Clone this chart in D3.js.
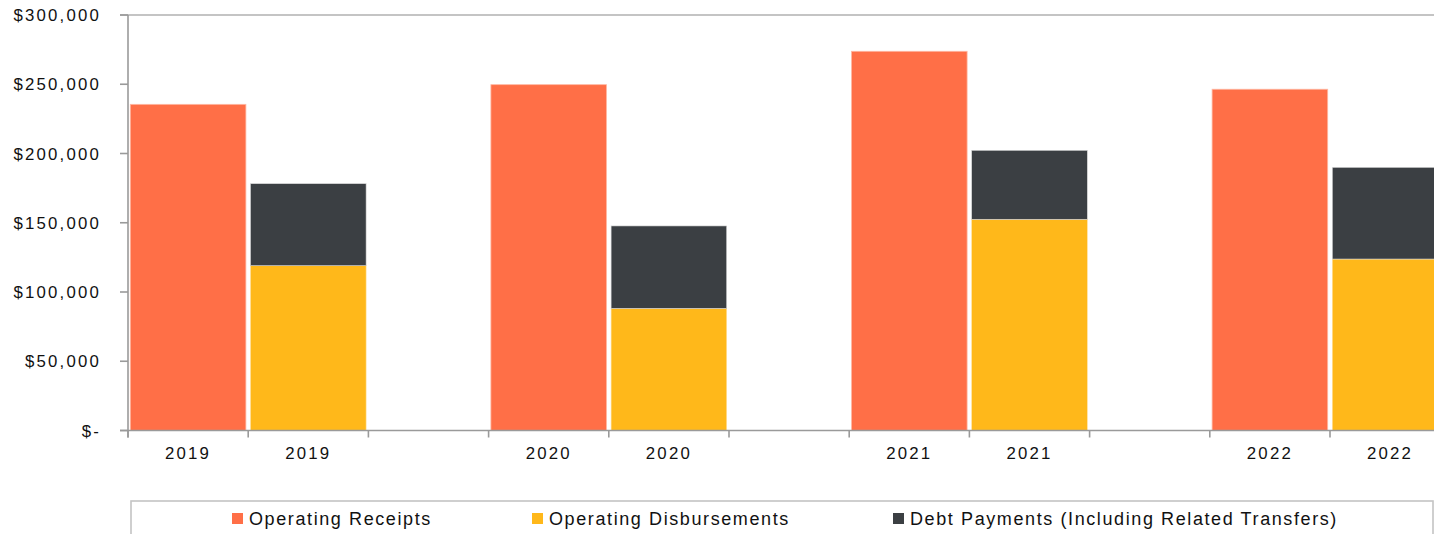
<!DOCTYPE html>
<html><head><meta charset="utf-8">
<script src="https://cdn.jsdelivr.net/npm/d3@7"></script>
<style>
html,body{margin:0;padding:0;background:#fff;overflow:hidden}
text{font-family:"Liberation Sans",Arial,sans-serif}
</style></head>
<body><svg id="c" width="1434" height="534"></svg>
<script>
const years = ["2019","2020","2021","2022"];
const receipts = [235500, 249700, 273800, 246400];
const disbursements = [119000, 88200, 152500, 123800];
const debt = [59200, 59500, 49800, 66200];
const yTicks = [0, 50000, 100000, 150000, 200000, 250000, 300000];
const seriesNames = ["Operating Receipts","Operating Disbursements","Debt Payments (Including Related Transfers)"];
const colors = ["#FF6F47","#FFB81A","#3B3F43"];

// slots: receipt, disbursement, gap per year (last year without gap)
const slots = [];
years.forEach((y,i)=>{
  slots.push({key:"R"+i, label:y, type:"R", i});
  slots.push({key:"D"+i, label:y, type:"D", i});
  if(i<years.length-1) slots.push({key:"G"+i, label:"", type:"G", i});
});

const svg = d3.select("#c");
const left = 128, slotW = 120.2, y0px = 430.5, ytop = 15;
const x = d3.scaleBand().domain(slots.map(s=>s.key)).range([left, left+slots.length*slotW]).padding(0);
const y = d3.scaleLinear().domain([0,300000]).range([y0px, ytop]);

// top line
svg.append("line").attr("x1",120).attr("x2",1434).attr("y1",y(300000)).attr("y2",y(300000))
  .attr("stroke","#c4c4c4").attr("stroke-width",2);

// bars
const pad = 2.3;
const g = svg.append("g");
slots.forEach(s=>{
  const bx = x(s.key)+pad, bw = x.bandwidth()-2*pad;
  if(s.type==="R"){
    g.append("rect").attr("x",bx).attr("width",bw).attr("y",y(receipts[s.i])).attr("height",y(0)-y(receipts[s.i]))
      .attr("fill",colors[0]).attr("stroke","#ffb8a3").attr("stroke-width",0.8);
  } else if(s.type==="D"){
    const d1 = disbursements[s.i], d2 = d1+debt[s.i];
    g.append("rect").attr("x",bx).attr("width",bw).attr("y",y(d1)).attr("height",y(0)-y(d1))
      .attr("fill",colors[1]).attr("stroke","#ffe0a0").attr("stroke-width",0.6);
    g.append("rect").attr("x",bx).attr("width",bw).attr("y",y(d2)).attr("height",y(d1)-y(d2))
      .attr("fill",colors[2]).attr("stroke","#d8d8d8").attr("stroke-width",0.6);
  }
});

// y axis
const fmt = v => v===0 ? "$-" : "$"+d3.format(",")(v);
svg.append("line").attr("x1",left).attr("x2",left).attr("y1",y(300000)).attr("y2",y(0)+7)
  .attr("stroke","#9a9a9a").attr("stroke-width",1.6);
yTicks.forEach(t=>{
  svg.append("line").attr("x1",120).attr("x2",left).attr("y1",y(t)).attr("y2",y(t))
    .attr("stroke","#9a9a9a").attr("stroke-width",1.6);
  svg.append("text").attr("x",101).attr("y",y(t)).attr("dy","0.36em").attr("text-anchor","end")
    .attr("font-size",16.8).attr("letter-spacing",2.2).attr("fill","#111").text(fmt(t));
});

// x axis
svg.append("line").attr("x1",120).attr("x2",1434).attr("y1",y(0)).attr("y2",y(0))
  .attr("stroke","#9a9a9a").attr("stroke-width",1.6);
slots.forEach(s=>{
  svg.append("line").attr("x1",x(s.key)).attr("x2",x(s.key)).attr("y1",y(0)).attr("y2",y(0)+7)
    .attr("stroke","#9a9a9a").attr("stroke-width",1.6);
  if(s.label) svg.append("text").attr("x",x(s.key)+x.bandwidth()/2).attr("y",459).attr("text-anchor","middle")
    .attr("font-size",16.8).attr("letter-spacing",2.2).attr("fill","#111").text(s.label);
});

// legend
svg.append("rect").attr("x",131).attr("y",501).attr("width",1302).attr("height",60)
  .attr("fill","#fff").attr("stroke","#c4c4c4").attr("stroke-width",1.6);
const legX = [232, 532, 893];
seriesNames.forEach((n,i)=>{
  svg.append("rect").attr("x",legX[i]).attr("y",513).attr("width",11).attr("height",11).attr("fill",colors[i]);
  svg.append("text").attr("x",legX[i]+17).attr("y",519).attr("dy","0.36em")
    .attr("font-family","Roboto").attr("font-size",18).attr("letter-spacing",1.6).attr("fill","#111").text(n);
});
</script></body></html>
